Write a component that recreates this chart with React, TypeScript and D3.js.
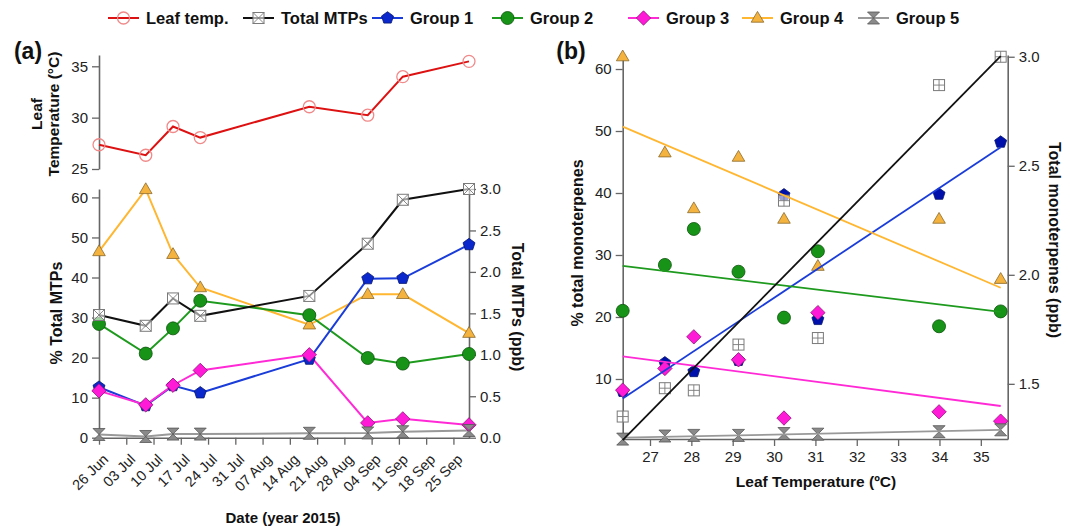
import React, { useEffect, useRef } from 'react';
import * as d3 from 'd3';

const sampleDates = ['2015-06-26', '2015-07-08', '2015-07-15', '2015-07-22', '2015-08-19', '2015-09-03', '2015-09-12', '2015-09-29'];
const leafTemp = [27.36, 26.34, 29.14, 28.06, 31.06, 30.24, 33.99, 35.48];
const totalMTPs = [1.48, 1.35, 1.68, 1.47, 1.71, 2.34, 2.87, 3.0];
const group1 = [12.6, 8.0, 13.0, 11.2, 19.6, 39.7, 39.8, 48.2];
const group2 = [28.4, 21.0, 27.3, 34.2, 30.6, 19.9, 18.5, 20.9];
const group3 = [11.7, 8.2, 13.1, 16.8, 20.7, 3.7, 4.7, 3.2];
const group4 = [46.5, 62.0, 45.8, 37.5, 28.2, 35.8, 35.8, 26.1];
const group5 = [0.8, 0.3, 0.9, 0.9, 1.1, 1.2, 1.5, 1.8];

// tick values
const dateTicks = ['2015-06-26', '2015-07-03', '2015-07-10', '2015-07-17', '2015-07-24', '2015-07-31', '2015-08-07', '2015-08-14', '2015-08-21', '2015-08-28', '2015-09-04', '2015-09-11', '2015-09-18', '2015-09-25'];
const tempTicksA = [25, 30, 35];
const pctTicksA = [0, 10, 20, 30, 40, 50, 60];
const ppbTicksA = [0, 0.5, 1.0, 1.5, 2.0, 2.5, 3.0];
const tempTicksB = [27, 28, 29, 30, 31, 32, 33, 34, 35];
const pctTicksB = [10, 20, 30, 40, 50, 60];
const ppbTicksB = [1.5, 2.0, 2.5, 3.0];

const FONT = 'Liberation Sans, Arial, Helvetica, sans-serif';
const AXIS_COLOR = '#666';

const groupStyles = [
  { name: 'Group 1', values: group1, line: '#1a3cd8', fill: '#0a28cc', fillB: '#0010aa', stroke: '#08166e', shape: 'pentagon' },
  { name: 'Group 2', values: group2, line: '#1e9a1e', fill: '#179417', fillB: '#179417', stroke: '#0b520b', shape: 'circle' },
  { name: 'Group 3', values: group3, line: '#ff2ad6', fill: '#ff1ad8', fillB: '#ff1ad8', stroke: '#8e1178', shape: 'diamond' },
  { name: 'Group 4', values: group4, line: '#ffb630', fill: '#f4b23e', fillB: '#f4b23e', stroke: '#8a6a2c', shape: 'triangle' },
  { name: 'Group 5', values: group5, line: '#999', fill: '#8a8a8a', fillB: '#8a8a8a', stroke: '#555', shape: 'hourglass' },
];

function markerPath(shape: string, r: number) {
  switch (shape) {
    case 'triangle':
      return `M0,${-r * 1.1}L${r * 1.05},${r * 0.7}L${-r * 1.05},${r * 0.7}Z`;
    case 'diamond':
      return `M0,${-r * 1.2}L${r * 1.2},0L0,${r * 1.2}L${-r * 1.2},0Z`;
    case 'pentagon': {
      const pts = d3.range(5).map((k) => {
        const a = -Math.PI / 2 + (k * 2 * Math.PI) / 5;
        return [r * 1.05 * Math.cos(a), r * 1.05 * Math.sin(a)];
      });
      return `M${pts.map((p) => p.join(',')).join('L')}Z`;
    }
    case 'hourglass':
      return `M${-r},${-r}L${r},${-r}L${-r},${r}L${r},${r}Z`;
    default:
      return '';
  }
}

// draw one marker of the given shape at (x, y)
function drawMarker(g: any, shape: string, x: number, y: number, fill: string, stroke: string) {
  const r = 6;
  if (shape === 'circle') {
    g.append('circle').attr('cx', x).attr('cy', y).attr('r', r + 0.5)
      .attr('fill', fill).attr('stroke', stroke).attr('stroke-width', 0.8);
  } else if (shape === 'leaf') {
    g.append('circle').attr('cx', x).attr('cy', y).attr('r', r)
      .attr('fill', 'none').attr('stroke', '#f08a8a').attr('stroke-width', 1.3);
  } else if (shape === 'squareX' || shape === 'squarePlus') {
    const s = 5.5;
    g.append('rect').attr('x', x - s).attr('y', y - s).attr('width', 2 * s).attr('height', 2 * s)
      .attr('fill', 'rgba(255,255,255,0.6)').attr('stroke', '#7a7a7a').attr('stroke-width', 1);
    const p = shape === 'squareX'
      ? `M${x - s},${y - s}L${x + s},${y + s}M${x + s},${y - s}L${x - s},${y + s}`
      : `M${x},${y - s}L${x},${y + s}M${x - s},${y}L${x + s},${y}`;
    g.append('path').attr('d', p).attr('stroke', '#7a7a7a').attr('stroke-width', 0.9).attr('fill', 'none');
  } else {
    g.append('path').attr('d', markerPath(shape, r)).attr('transform', `translate(${x},${y})`)
      .attr('fill', fill).attr('stroke', stroke).attr('stroke-width', 0.8);
  }
}

// least squares fit
function fitLine(xs: number[], ys: number[]) {
  const mx = d3.mean(xs) as number;
  const my = d3.mean(ys) as number;
  const sxy = d3.sum(xs, (x, i) => (x - mx) * (ys[i] - my));
  const sxx = d3.sum(xs, (x) => (x - mx) * (x - mx));
  const slope = sxy / sxx;
  return (x: number) => my + slope * (x - mx);
}

function styleAxis(g: any, size = 15) {
  g.select('.domain').attr('stroke', AXIS_COLOR).attr('stroke-width', 1.6);
  g.selectAll('.tick line').attr('stroke', AXIS_COLOR).attr('stroke-width', 1.3);
  g.selectAll('.tick text').attr('fill', '#222').style('font-family', FONT).style('font-size', `${size}px`);
}

export default function App() {
  const ref = useRef<SVGSVGElement>(null);

  useEffect(() => {
    const svg = d3.select(ref.current);
    svg.selectAll('*').remove();
    const parse = d3.timeParse('%Y-%m-%d');
    const dates = sampleDates.map((d) => parse(d) as Date);

    /* ---------- legend ---------- */
    const legend = svg.append('g');
    const legendItems = [
      { name: 'Leaf temp.', line: '#dd1111', shape: 'leaf', fill: 'none', stroke: '#f08a8a' },
      { name: 'Total MTPs', line: '#111', shape: 'squareX', fill: '#fff', stroke: '#777' },
      ...groupStyles.map((g) => ({ name: g.name, line: g.line, shape: g.shape, fill: g.fill, stroke: g.stroke })),
    ];
    const legendX = [108, 243, 372, 492, 628, 742, 858];
    legendItems.forEach((it, i) => {
      const x0 = legendX[i];
      legend.append('line').attr('x1', x0).attr('x2', x0 + 31).attr('y1', 18).attr('y2', 18)
        .attr('stroke', it.line).attr('stroke-width', 2);
      drawMarker(legend, it.shape, x0 + 15.5, 18, it.fill, it.stroke);
      legend.append('text').attr('x', x0 + 38).attr('y', 24).text(it.name)
        .style('font-family', FONT).style('font-size', '16.5px').style('font-weight', 'bold').attr('fill', '#111');
    });

    /* ---------- panel (a) ---------- */
    const xA = d3.scaleTime().domain([dates[0], dates[dates.length - 1]]).range([99, 469]);
    const yTemp = d3.scaleLinear().domain([25, 36.1]).range([169, 55]);
    const yPct = d3.scaleLinear().domain([0, 62.1]).range([437.7, 189]);
    const yPpb = d3.scaleLinear().domain([0, 3.0]).range([437.7, 189]);

    const gA = svg.append('g');
    styleAxis(gA.append('g').attr('transform', 'translate(99,0)')
      .call(d3.axisLeft(yTemp).tickValues(tempTicksA).tickSize(7).tickSizeOuter(0).tickPadding(4)));
    styleAxis(gA.append('g').attr('transform', 'translate(99,0)')
      .call(d3.axisLeft(yPct).tickValues(pctTicksA).tickSize(7).tickSizeOuter(0).tickPadding(4)));
    styleAxis(gA.append('g').attr('transform', 'translate(469,0)')
      .call(d3.axisRight(yPpb).tickValues(ppbTicksA).tickFormat(d3.format('.1f')).tickSize(7).tickSizeOuter(0).tickPadding(4)));
    const xAxisA = gA.append('g').attr('transform', 'translate(0,437.7)')
      .call(d3.axisBottom(xA).tickValues(dateTicks.map((d) => parse(d) as Date))
        .tickFormat(d3.timeFormat('%d %b') as any).tickSize(7).tickSizeOuter(0));
    styleAxis(xAxisA, 14.5);
    xAxisA.selectAll('.tick text')
      .attr('x', 0).attr('y', 0).attr('dy', '0.35em')
      .attr('transform', 'translate(6,19) rotate(-45)')
      .style('text-anchor', 'end');

    // leaf temperature line
    const tempLine = d3.line<number>().x((d, i) => xA(dates[i])).y((d) => yTemp(d));
    gA.append('path').attr('d', tempLine(leafTemp)).attr('fill', 'none').attr('stroke', '#dd1111').attr('stroke-width', 2);
    leafTemp.forEach((v, i) => drawMarker(gA, 'leaf', xA(dates[i]), yTemp(v), 'none', '#f08a8a'));

    // group lines
    const pctLine = d3.line<number>().x((d, i) => xA(dates[i])).y((d) => yPct(d));
    const ppbLine = d3.line<number>().x((d, i) => xA(dates[i])).y((d) => yPpb(d));
    [3, 1, 0, 2, 4].forEach((k) => {
      const g = groupStyles[k];
      gA.append('path').attr('d', pctLine(g.values)).attr('fill', 'none').attr('stroke', g.line).attr('stroke-width', 2);
    });
    gA.append('path').attr('d', ppbLine(totalMTPs)).attr('fill', 'none').attr('stroke', '#111').attr('stroke-width', 2);
    [3, 1, 0, 2, 4].forEach((k) => {
      const g = groupStyles[k];
      g.values.forEach((v, i) => drawMarker(gA, g.shape, xA(dates[i]), yPct(v), g.fill, g.stroke));
    });
    totalMTPs.forEach((v, i) => drawMarker(gA, 'squareX', xA(dates[i]), yPpb(v), '#fff', '#777'));

    // panel (a) titles
    const boldText = (g: any, txt: string, x: number, y: number, size: number, rot = 0) =>
      g.append('text').attr('transform', `translate(${x},${y}) rotate(${rot})`).attr('text-anchor', 'middle')
        .attr('dy', '0.35em').text(txt).style('font-family', FONT).style('font-size', `${size}px`)
        .style('font-weight', 'bold').attr('fill', '#111');
    boldText(gA, 'Leaf', 37, 114, 15.5, -90);
    boldText(gA, 'Temperature (°C)', 54, 114, 15.5, -90);
    boldText(gA, '% Total MTPs', 56, 313, 16, -90);
    boldText(gA, 'Total MTPs (ppb)', 518, 307, 16, 90);
    boldText(gA, 'Date (year 2015)', 283, 518, 15, 0);
    boldText(gA, '(a)', 28, 51, 23, 0);

    /* ---------- panel (b) ---------- */
    const xB = d3.scaleLinear().domain([26.34, 35.65]).range([622.7, 1007.7]);
    const yPctB = d3.scaleLinear().domain([0.32, 62.26]).range([439, 55]);
    const yPpbB = d3.scaleLinear().domain([1.247, 3.008]).range([439, 55]);

    const gB = svg.append('g');
    styleAxis(gB.append('g').attr('transform', 'translate(622.7,0)')
      .call(d3.axisLeft(yPctB).tickValues(pctTicksB).tickSize(7).tickSizeOuter(0).tickPadding(4)));
    styleAxis(gB.append('g').attr('transform', 'translate(1007.7,0)')
      .call(d3.axisRight(yPpbB).tickValues(ppbTicksB).tickFormat(d3.format('.1f')).tickSize(7).tickSizeOuter(0).tickPadding(4)));
    styleAxis(gB.append('g').attr('transform', 'translate(0,439)')
      .call(d3.axisBottom(xB).tickValues(tempTicksB).tickSize(7).tickSizeOuter(0).tickPadding(5)));

    const tMin = d3.min(leafTemp) as number;
    const tMax = d3.max(leafTemp) as number;
    // markers first, fitted lines on top
    groupStyles.forEach((g) => {
      g.values.forEach((v, i) => drawMarker(gB, g.shape, xB(leafTemp[i]), yPctB(v), g.fillB, g.stroke));
    });
    totalMTPs.forEach((v, i) => drawMarker(gB, 'squarePlus', xB(leafTemp[i]), yPpbB(v), '#fff', '#777'));

    groupStyles.forEach((g) => {
      const f = fitLine(leafTemp, g.values);
      gB.append('line').attr('x1', xB(tMin)).attr('x2', xB(tMax)).attr('y1', yPctB(f(tMin))).attr('y2', yPctB(f(tMax)))
        .attr('stroke', g.line).attr('stroke-width', 1.8);
    });
    const fT = fitLine(leafTemp, totalMTPs);
    gB.append('line').attr('x1', xB(tMin)).attr('x2', xB(tMax)).attr('y1', yPpbB(fT(tMin))).attr('y2', yPpbB(fT(tMax)))
      .attr('stroke', '#111').attr('stroke-width', 1.8);

    boldText(gB, '% total monoterpenes', 577, 243, 16, -90);
    boldText(gB, 'Total monoterpenes (ppb)', 1055, 240, 16, 90);
    boldText(gB, 'Leaf Temperature (ºC)', 816, 482, 15.5, 0);
    boldText(gB, '(b)', 571, 51, 23, 0);
  }, []);

  return (
    <svg ref={ref} width={1070} height={526}
      style={{ position: 'absolute', left: 0, top: 0, background: '#fff' }} />
  );
}
